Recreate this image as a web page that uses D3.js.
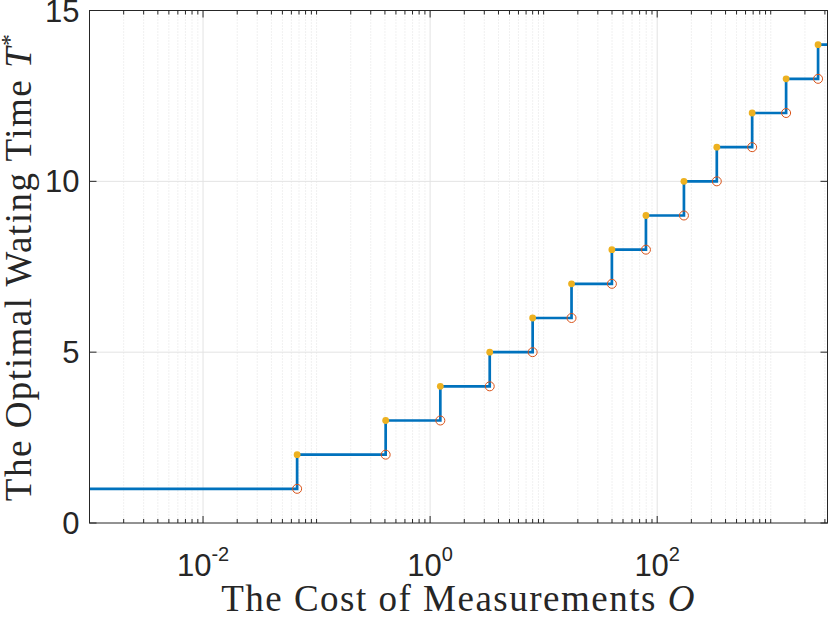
<!DOCTYPE html>
<html>
<head>
<meta charset="utf-8">
<script src="https://cdn.jsdelivr.net/npm/d3@7"></script>
<style>
  body { margin: 0; background: #fff; }
  svg { display: block; }
</style>
</head>
<body>
<div id="chart"></div>
<script>
// Step plot - optimal waiting time T* vs. cost of measurements O (log x)

// x range of the axes
const costRange = [1e-3, Math.pow(10, 3.5)];
// costs where T* jumps up by one
const jumpCosts = [0.0674, 0.406, 1.23, 3.35, 8.0, 17.6, 39.9, 79.6, 172, 335, 686, 1366, 2612];
// T* before the first jump, and after each jump
const startLevel = 1;
const jumpLevels = [2, 3, 4, 5, 6, 7, 8, 9, 10, 11, 12, 13, 14];
// tick labels
const yTicks = [0, 5, 10, 15];
const xLabelExps = [-2, 0, 2];

function drawChart() {
    const container = d3.select('#chart');
    container.html('');

    const fullW = 830, fullH = 617;
    const margin = {top: 10.5, right: 2.5, bottom: 94, left: 89.5};
    const width = fullW - margin.left - margin.right;
    const height = fullH - margin.top - margin.bottom;

    const svg = container.append('svg')
        .attr('width', fullW)
        .attr('height', fullH);

    const g = svg.append('g')
        .attr('transform', `translate(${margin.left},${margin.top})`);

    // Scales
    const xScale = d3.scaleLog()
        .domain(costRange)
        .range([0, width]);

    const yScale = d3.scaleLinear()
        .domain([0, 15])
        .range([height, 0]);

    const majorX = xLabelExps.map(e => Math.pow(10, e));
    const isMajor = v => majorX.some(m => Math.abs(Math.log10(v) - Math.log10(m)) < 1e-9);
    const minorX = xScale.ticks().filter(v => !isMajor(v) && v > costRange[0] * 1.0001 && v < costRange[1]);

    // Grid - minor (dotted)
    g.append('g')
        .selectAll('line')
        .data(minorX)
        .enter()
        .append('line')
        .attr('x1', d => xScale(d))
        .attr('x2', d => xScale(d))
        .attr('y1', 0)
        .attr('y2', height)
        .style('stroke', '#d6d6d6')
        .style('stroke-width', 0.7)
        .style('stroke-dasharray', '1,2');

    // Grid - major
    g.append('g')
        .selectAll('line')
        .data(majorX)
        .enter()
        .append('line')
        .attr('x1', d => xScale(d))
        .attr('x2', d => xScale(d))
        .attr('y1', 0)
        .attr('y2', height)
        .style('stroke', '#e3e3e3')
        .style('stroke-width', 1);

    g.append('g')
        .selectAll('line')
        .data(yTicks.filter(v => v > 0 && v < 15))
        .enter()
        .append('line')
        .attr('x1', 0)
        .attr('x2', width)
        .attr('y1', d => yScale(d))
        .attr('y2', d => yScale(d))
        .style('stroke', '#e3e3e3')
        .style('stroke-width', 1);

    // Step line
    const pts = [[costRange[0], startLevel]]
        .concat(jumpCosts.map((c, i) => [c, jumpLevels[i]]))
        .concat([[costRange[1], jumpLevels[jumpLevels.length - 1]]]);

    const line = d3.line()
        .x(d => xScale(d[0]))
        .y(d => yScale(d[1]))
        .curve(d3.curveStepAfter);

    g.append('path')
        .datum(pts)
        .attr('d', line)
        .style('fill', 'none')
        .style('stroke', '#0072BD')
        .style('stroke-width', 2.7);

    // Open circles at the bottom of each jump
    g.selectAll('.low')
        .data(jumpCosts)
        .enter()
        .append('circle')
        .attr('class', 'low')
        .attr('cx', d => xScale(d))
        .attr('cy', (d, i) => yScale(jumpLevels[i] - 1))
        .attr('r', 4.5)
        .style('fill', 'none')
        .style('stroke', '#D95319')
        .style('stroke-width', 1);

    // Filled dots at the top of each jump
    g.selectAll('.high')
        .data(jumpCosts)
        .enter()
        .append('circle')
        .attr('class', 'high')
        .attr('cx', d => xScale(d))
        .attr('cy', (d, i) => yScale(jumpLevels[i]))
        .attr('r', 3.4)
        .style('fill', '#EDB120')
        .style('stroke', 'none');

    // Box
    const axisColor = '#262626';
    g.append('rect')
        .attr('x', 0)
        .attr('y', 0)
        .attr('width', width)
        .attr('height', height)
        .style('fill', 'none')
        .style('stroke', axisColor)
        .style('stroke-width', 1);

    // Tick marks (inward, bottom + top, left + right)
    const xTickData = minorX.map(v => ({v, len: 4})).concat(majorX.map(v => ({v, len: 7})));
    const ticks = g.append('g').style('stroke', axisColor).style('stroke-width', 1);
    ticks.selectAll('.xb')
        .data(xTickData)
        .enter()
        .append('line')
        .attr('x1', d => xScale(d.v))
        .attr('x2', d => xScale(d.v))
        .attr('y1', height)
        .attr('y2', d => height - d.len);
    ticks.selectAll('.xt')
        .data(xTickData)
        .enter()
        .append('line')
        .attr('x1', d => xScale(d.v))
        .attr('x2', d => xScale(d.v))
        .attr('y1', 0)
        .attr('y2', d => d.len);
    ticks.selectAll('.yl')
        .data(yTicks)
        .enter()
        .append('line')
        .attr('x1', 0)
        .attr('x2', 7)
        .attr('y1', d => yScale(d))
        .attr('y2', d => yScale(d));
    ticks.selectAll('.yr')
        .data(yTicks)
        .enter()
        .append('line')
        .attr('x1', width)
        .attr('x2', width - 7)
        .attr('y1', d => yScale(d))
        .attr('y2', d => yScale(d));

    // Tick labels
    const tickFont = '"Liberation Sans", Arial, Helvetica, sans-serif';
    g.selectAll('.ylab')
        .data(yTicks)
        .enter()
        .append('text')
        .attr('x', -10)
        .attr('y', d => yScale(d))
        .attr('dy', '0.36em')
        .attr('text-anchor', 'end')
        .style('font-family', tickFont)
        .style('font-size', '31px')
        .style('fill', axisColor)
        .text(d => d);

    const xl = g.selectAll('.xlab')
        .data(xLabelExps)
        .enter()
        .append('text')
        .attr('x', d => xScale(Math.pow(10, d)))
        .attr('y', height + 53)
        .attr('text-anchor', 'middle')
        .style('font-family', tickFont)
        .style('font-size', '31px')
        .style('fill', axisColor);
    xl.append('tspan').text('10');
    xl.append('tspan')
        .attr('dy', -15)
        .style('font-size', '20px')
        .text(d => d);

    // Axis titles
    const labelFont = '"Liberation Serif", "Times New Roman", serif';
    const xTitle = g.append('text')
        .attr('x', width / 2)
        .attr('y', height + 88)
        .attr('text-anchor', 'middle')
        .style('font-family', labelFont)
        .style('font-size', '37px')
        .style('letter-spacing', '1.5px')
        .style('fill', axisColor);
    xTitle.append('tspan').text('The Cost of Measurements ');
    xTitle.append('tspan').style('font-style', 'italic').text('O');

    const yTitle = g.append('text')
        .attr('transform', `translate(${31 - margin.left},${height / 2}) rotate(-90)`)
        .attr('text-anchor', 'middle')
        .style('font-family', labelFont)
        .style('font-size', '37px')
        .style('letter-spacing', '1.5px')
        .style('fill', axisColor);
    yTitle.append('tspan').text('The Optimal Wating Time ');
    yTitle.append('tspan').style('font-style', 'italic').text('T');
    yTitle.append('tspan')
        .attr('dy', -14)
        .style('font-size', '24px')
        .text('*');
}

drawChart();
</script>
</body>
</html>
